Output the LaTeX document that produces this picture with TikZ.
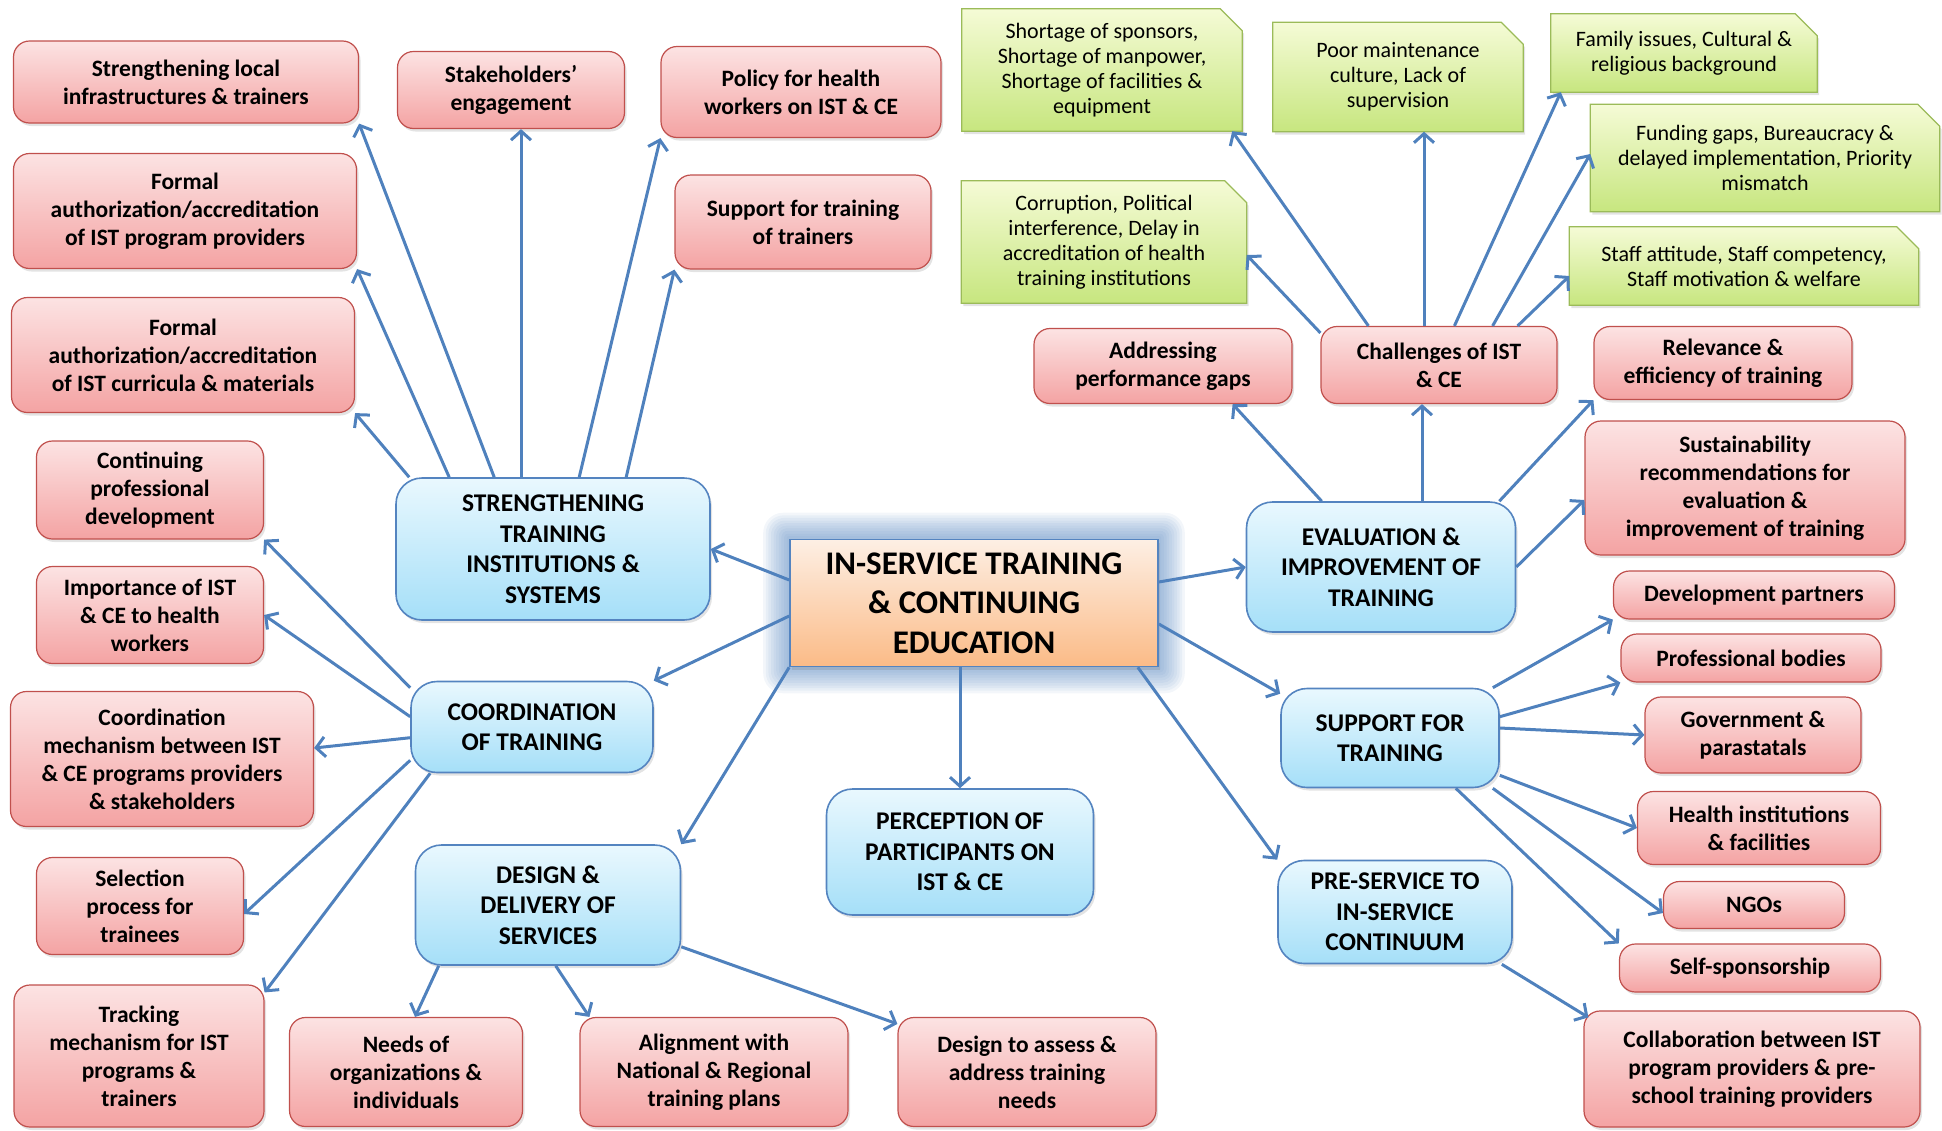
\documentclass[tikz,border=0pt]{standalone}
\usepackage{fontspec}
\setmainfont{Carlito}
\usetikzlibrary{arrows.meta,shadows,backgrounds}

\definecolor{arrblue}{HTML}{4F81BD}
\definecolor{redtop}{HTML}{FCE3E3}
\definecolor{redbot}{HTML}{F4A3A3}
\definecolor{redline}{HTML}{C0504D}
\definecolor{bluetop}{HTML}{E9F8FE}
\definecolor{bluebot}{HTML}{A5DFF8}
\definecolor{blueline}{HTML}{5484C0}
\definecolor{hubtop}{HTML}{FDEFE4}
\definecolor{hubbot}{HTML}{FBBB87}
\definecolor{glowblue}{HTML}{4F81BD}
\definecolor{greentop}{HTML}{F5FBD6}
\definecolor{greenbot}{HTML}{C7E67F}
\definecolor{greenline}{HTML}{9BBB59}

\tikzset{
  box/.style 2 args={align=center, inner sep=0pt, minimum width=#1pt, minimum height=#2pt,
    drop shadow={shadow xshift=2pt, shadow yshift=-3pt, opacity=.22}},
  redbox/.style 2 args={box={#1}{#2}, rounded corners=16pt, draw=redline, line width=1.2pt,
    top color=redtop, bottom color=redbot, font=\fontsize{23.5}{28}\selectfont\bfseries},
  bluebox/.style 2 args={box={#1}{#2}, rounded corners=26pt, draw=blueline, line width=1.6pt,
    top color=bluetop, bottom color=bluebot, font=\fontsize{25.5}{30.5}\selectfont\bfseries},
  hubbox/.style 2 args={box={#1}{#2}, draw=blueline, line width=1.6pt,
    top color=hubtop, bottom color=hubbot, font=\fontsize{33}{39.5}\selectfont\bfseries},
  gtext/.style 2 args={align=center, inner sep=0pt, minimum width=#1pt, minimum height=#2pt,
    font=\fontsize{22}{25}\selectfont},
  gshape/.style={draw=greenline, line width=1.2pt, top color=greentop, bottom color=greenbot,
    drop shadow={shadow xshift=2pt, shadow yshift=-3pt, opacity=.22}},
  arr/.style={draw=arrblue, line width=3pt, -{Straight Barb[length=9pt,width=20pt]}}
}

\begin{document}
\begin{tikzpicture}[x=1pt,y=-1pt]
\useasboundingbox (0,0) rectangle (1942,1130);

% centre and main themes
\node[hubbox={368}{127}] (hub) at (974,603) {IN-SERVICE TRAINING\\\& CONTINUING\\EDUCATION};
\node[bluebox={314}{142}] (sttis) at (553,549) {STRENGTHENING\\TRAINING\\INSTITUTIONS \&\\SYSTEMS};
\node[bluebox={242}{91}] (coord) at (532,727) {COORDINATION\\OF TRAINING};
\node[bluebox={265}{120}] (design) at (548,905) {DESIGN \&\\DELIVERY OF\\SERVICES};
\node[bluebox={267}{126}] (percep) at (960,852) {PERCEPTION OF\\PARTICIPANTS ON\\IST \& CE};
\node[bluebox={234}{103}] (preserv) at (1395,912) {PRE-SERVICE TO\\IN-SERVICE\\CONTINUUM};
\node[bluebox={218}{99}] (support) at (1390,738) {SUPPORT FOR\\TRAINING};
\node[bluebox={269}{130}] (evalimp) at (1381,567) {EVALUATION \&\\IMPROVEMENT OF\\TRAINING};

% strengthening
\node[redbox={345}{82}] (infra) at (186,82) {Strengthening local\\infrastructures \& trainers};
\node[redbox={343}{115}] (provacc) at (185,211) {Formal\\authorization/accreditation\\of IST program providers};
\node[redbox={343}{115}] (curacc) at (183,355) {Formal\\authorization/accreditation\\of IST curricula \& materials};
\node[redbox={227}{77}] (stake) at (511,90) {Stakeholders’\\engagement};
\node[redbox={280}{91}] (policy) at (801,92) {Policy for health\\workers on IST \& CE};
\node[redbox={256}{94}] (tot) at (803,222) {Support for training\\of trainers};

% coordination
\node[redbox={227}{98}] (cpd) at (150,490) {Continuing\\professional\\development};
\node[redbox={227}{97}] (importance) at (150,615) {Importance of IST\\\& CE to health\\workers};
\node[redbox={303}{135}] (mech) at (162,759) {Coordination\\mechanism between IST\\\& CE programs providers\\\& stakeholders};
\node[redbox={207}{97}] (selection) at (140,906) {Selection\\process for\\trainees};
\node[redbox={250}{142}] (tracking) at (139,1056) {Tracking\\mechanism for IST\\programs \&\\trainers};

% design
\node[redbox={233}{109}] (needs) at (406,1072) {Needs of\\organizations \&\\individuals};
\node[redbox={268}{109}] (align) at (714,1072) {Alignment with\\National \& Regional\\training plans};
\node[redbox={258}{109}] (assess) at (1027,1072) {Design to assess \&\\address training\\needs};

% support
\node[redbox={281}{48}] (devpart) at (1754,595) {Development partners};
\node[redbox={260}{48}] (profbody) at (1751,658) {Professional bodies};
\node[redbox={216}{76}] (govt) at (1753,735) {Government \&\\parastatals};
\node[redbox={243}{73}] (healthinst) at (1759,828) {Health institutions\\\& facilities};
\node[redbox={181}{47}] (ngo) at (1754,905) {NGOs};
\node[redbox={261}{48}] (selfsp) at (1750,968) {Self-sponsorship};
\node[redbox={336}{116}] (collab) at (1752,1069) {Collaboration between IST\\program providers \& pre-\\school training providers};

% evaluation
\node[redbox={258}{75}] (perfgap) at (1163,366) {Addressing\\performance gaps};
\node[redbox={236}{77}] (challenge) at (1439,365) {Challenges of IST\\\& CE};
\node[redbox={258}{73}] (relevance) at (1723,363) {Relevance \&\\efficiency of training};
\node[redbox={320}{134}] (sustain) at (1745,488) {Sustainability\\recommendations for\\evaluation \&\\improvement of training};

% challenges
\node[gtext={280}{122}] (shortage) at (1102,70) {Shortage of sponsors,\\Shortage of manpower,\\Shortage of facilities \&\\equipment};
\node[gtext={250}{109}] (maint) at (1398,77) {Poor maintenance\\culture, Lack of\\supervision};
\node[gtext={266}{78}] (family) at (1684,53) {Family issues, Cultural \&\\religious background};
\node[gtext={349}{107}] (funding) at (1765,158) {Funding gaps, Bureaucracy \&\\delayed implementation, Priority\\mismatch};
\node[gtext={285}{122}] (corrupt) at (1104,242) {Corruption, Political\\interference, Delay in\\accreditation of health\\training institutions};
\node[gtext={349}{78}] (staff) at (1744,266) {Staff attitude, Staff competency,\\Staff motivation \& welfare};

\begin{scope}[on background layer]
\foreach \i in {1,...,10}
  \fill[glowblue, opacity=.07, rounded corners=\i*2pt]
    ([shift={(-\i*2.6pt,\i*2.6pt)}]hub.north west) rectangle ([shift={(\i*2.6pt,-\i*2.6pt)}]hub.south east);
\foreach \g in {shortage,maint,family,funding,corrupt,staff}
  \path[gshape] (\g.north west) -- ([xshift=-22pt]\g.north east) -- ([yshift=-22pt]\g.north east)
    -- (\g.south east) -- (\g.south west) -- cycle;
\end{scope}

% from the centre
\draw[arr] ([yshift=23pt]hub.west) -- (sttis.east);
\draw[arr] ([yshift=-13pt]hub.west) -- (coord.north east);
\draw[arr] (hub.south west) -- (design.north east);
\draw[arr] (hub.south -| percep.north) -- (percep.north);
\draw[arr] ([xshift=-21pt]hub.south east) -- (preserv.north west);
\draw[arr] ([yshift=-21pt]hub.east) -- ([yshift=-6pt]support.north west);
\draw[arr] ([yshift=21pt]hub.east) -- (evalimp.west);

% strengthening
\coordinate (sk) at ([xshift=10pt]stake.south);
\draw[arr] ([xshift=99pt]sttis.north west) -- (infra.south east);
\draw[arr] ([xshift=54pt]sttis.north west) -- (provacc.south east);
\draw[arr] ([xshift=14pt]sttis.north west) -- (curacc.south east);
\draw[arr] (sk |- sttis.north) -- (sk);
\draw[arr] ([xshift=184pt]sttis.north west) -- (policy.south west);
\draw[arr] ([xshift=231pt]sttis.north west) -- (tot.south west);

% coordination
\draw[arr] ([yshift=-7pt]coord.north west) -- (cpd.south east);
\draw[arr] ([yshift=-36pt]coord.north west) -- (importance.east);
\draw[arr] ([yshift=-57pt]coord.north west) -- ([yshift=11pt]mech.east);
\draw[arr] ([yshift=13pt]coord.south west) -- ([yshift=-8pt]selection.east);
\draw[arr] ([xshift=20pt]coord.south west) -- ([yshift=-8pt]tracking.north east);

% design
\draw[arr] ([xshift=24pt]design.south west) -- ([xshift=9pt]needs.north);
\draw[arr] ([xshift=141pt]design.south west) -- ([xshift=10pt]align.north west);
\draw[arr] ([yshift=19pt]design.south east) -- ([yshift=-7pt]assess.north west);

% support
\draw[arr] ([xshift=-7pt]support.north east) -- (devpart.south west);
\draw[arr] ([yshift=-29pt]support.north east) -- (profbody.south west);
\draw[arr] ([yshift=10pt]support.east) -- (govt.west);
\draw[arr] ([yshift=13pt]support.south east) -- (healthinst.west);
\draw[arr] ([xshift=-7pt]support.south east) -- ([yshift=-8pt]ngo.west);
\draw[arr] ([xshift=-44pt]support.south east) -- (selfsp.north west);
\draw[arr] ([xshift=-11pt]preserv.south east) -- ([shift={(5pt,-7pt)}]collab.north west);

% evaluation
\coordinate (ch) at ([xshift=-17pt]challenge.south);
\draw[arr] ([xshift=76pt]evalimp.north west) -- ([xshift=-60pt]perfgap.south east);
\draw[arr] (ch |- evalimp.north) -- (ch);
\draw[arr] ([xshift=-17pt]evalimp.north east) -- (relevance.south west);
\draw[arr] (evalimp.east) -- ([yshift=-12pt]sustain.west);

% challenges
\coordinate (mt) at ([xshift=26pt]maint.south);
\draw[arr] ([xshift=48pt]challenge.north west) -- ([xshift=-10pt]shortage.south east);
\draw[arr] ([yshift=-7pt]challenge.north west) -- ([yshift=-13pt]corrupt.east);
\draw[arr] (mt |- challenge.north) -- (mt);
\draw[arr] ([xshift=134pt]challenge.north west) -- ([xshift=10pt]family.south west);
\draw[arr] ([xshift=-65pt]challenge.north east) -- ([yshift=4pt]funding.west);
\draw[arr] ([xshift=-40pt]challenge.north east) -- ([yshift=-10pt]staff.west);
\end{tikzpicture}
\end{document}
